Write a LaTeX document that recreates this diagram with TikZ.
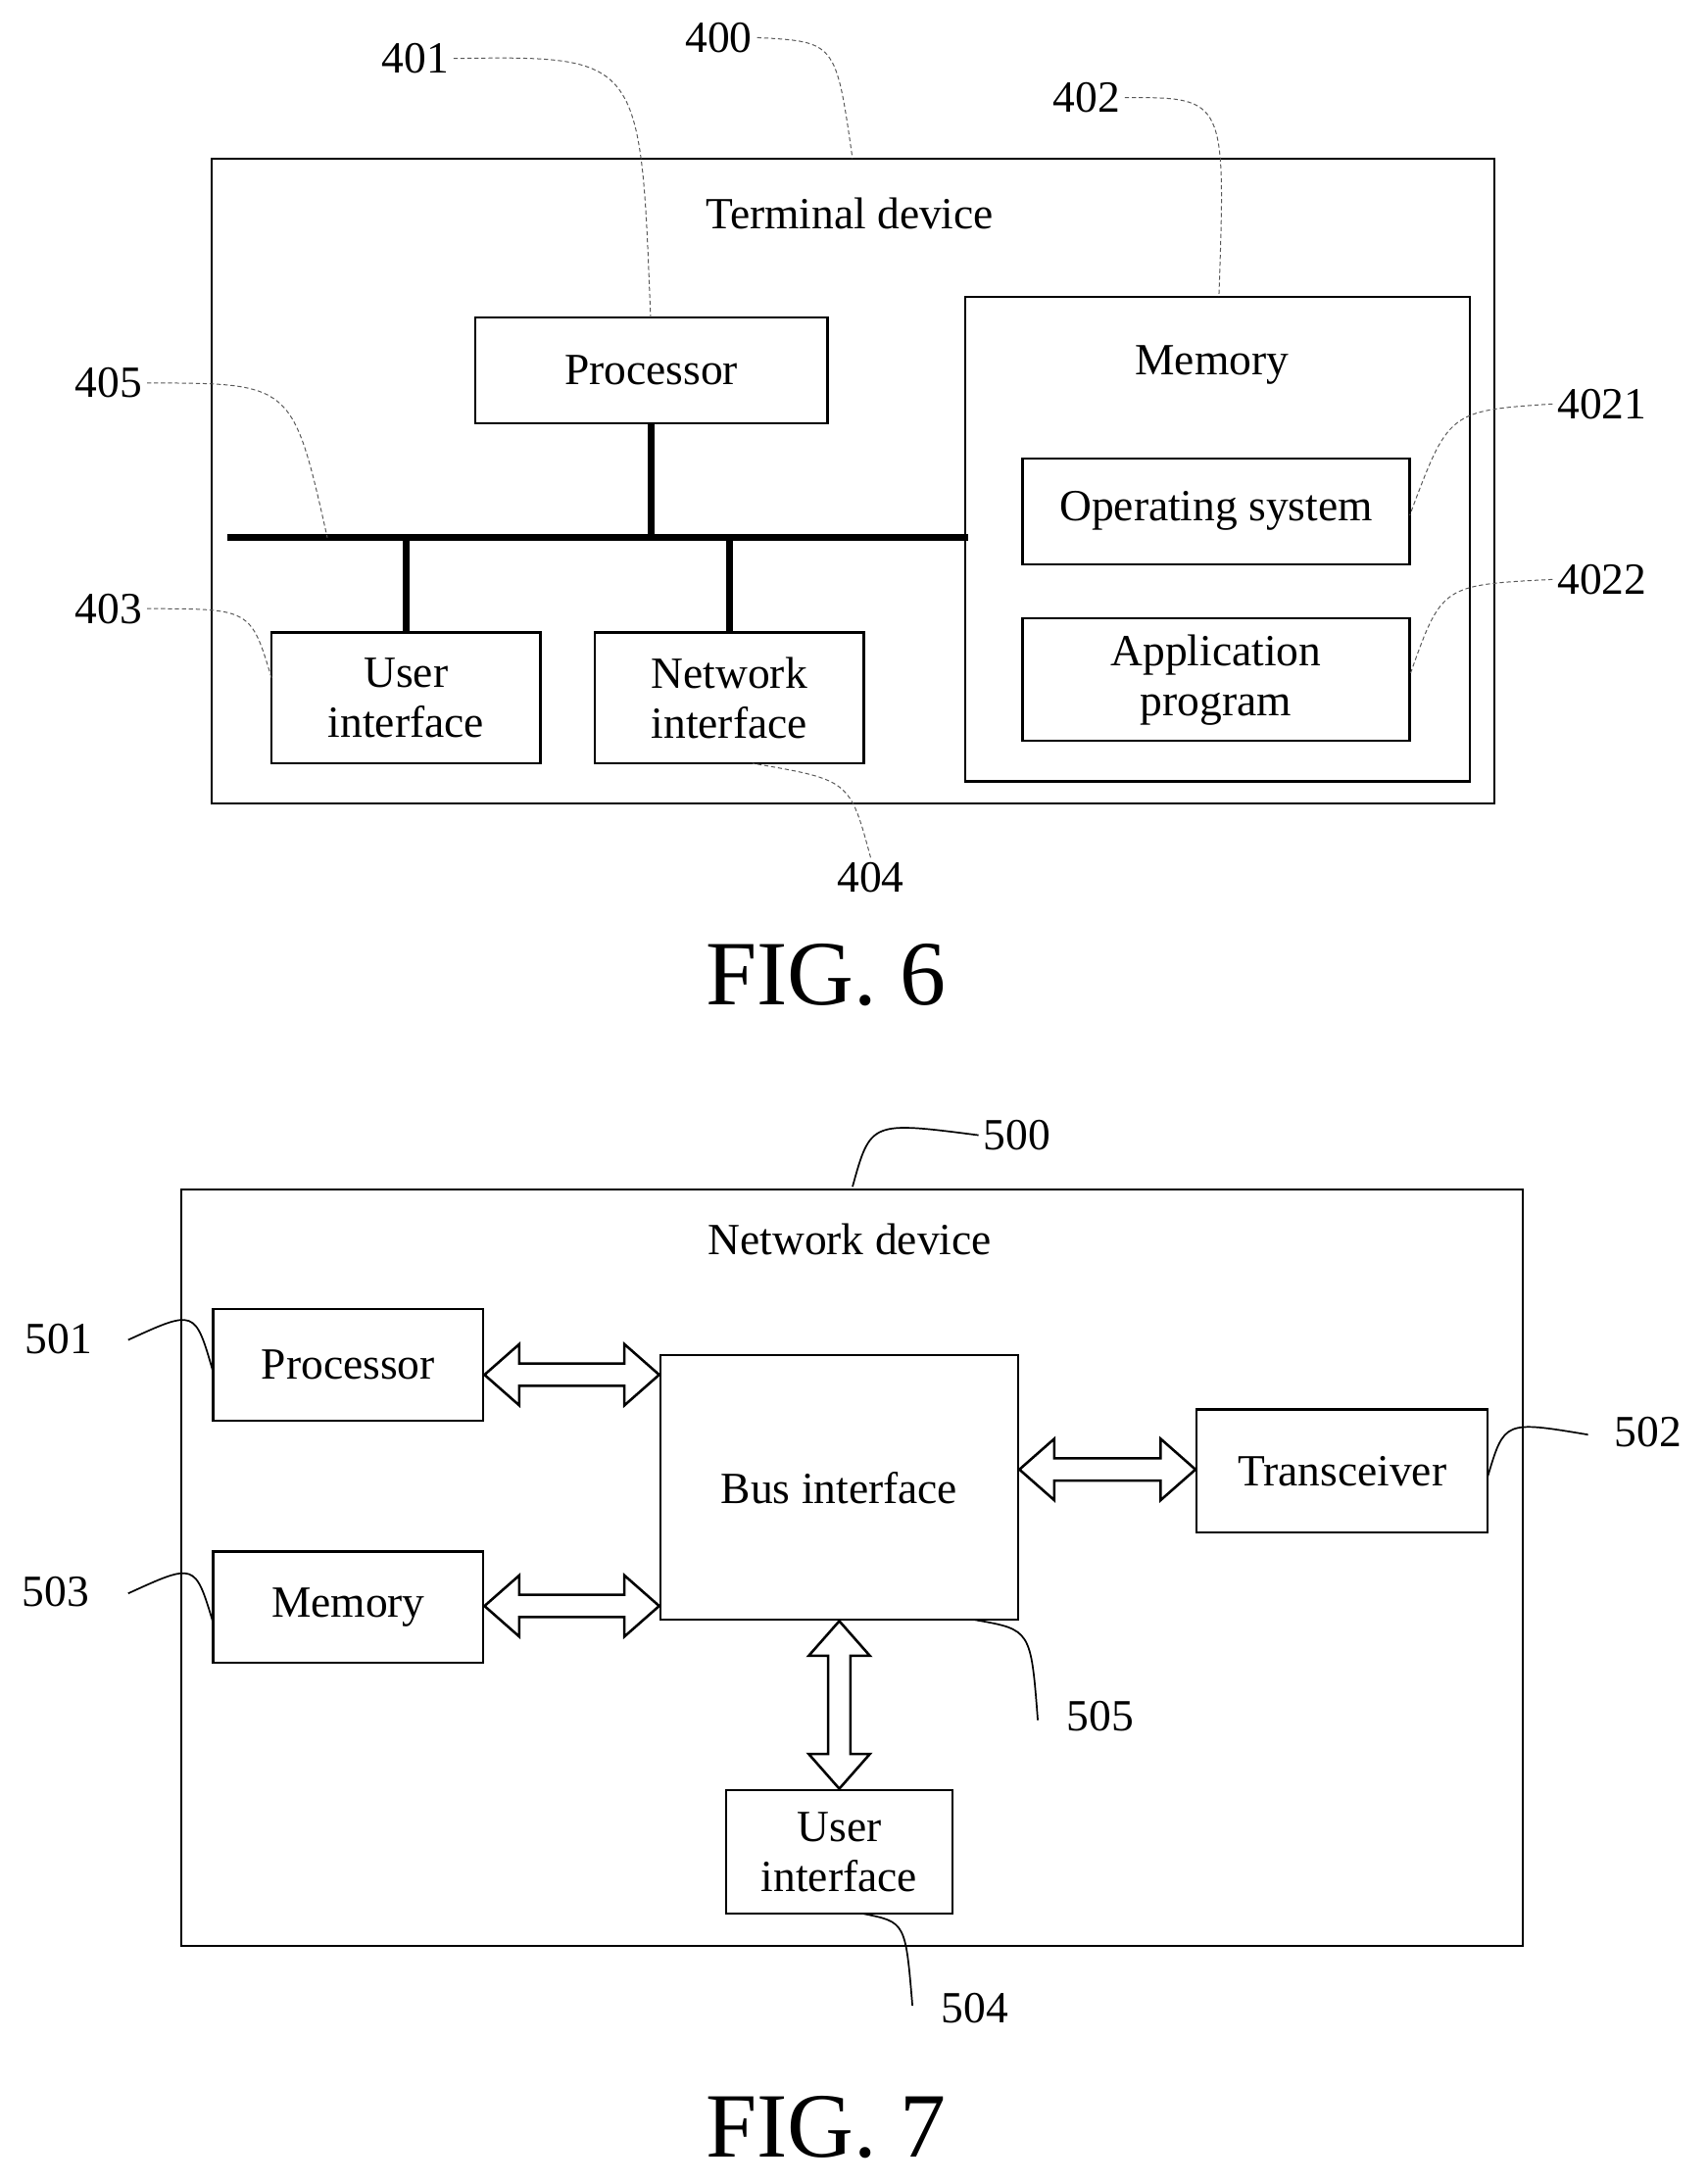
\documentclass[tikz,border=0pt]{standalone}
\usepackage{fontspec}
\setmainfont{Liberation Serif}
\usetikzlibrary{calc}
\begin{document}
\begin{tikzpicture}[x=1pt,y=-1pt,
 txt/.style={font=\fontsize{32}{36}\selectfont, align=center},
 box/.style={draw, line width=1.6pt},
 lead/.style={densely dashed, line width=0.7pt, gray!70!black},
 slead/.style={line width=1.2pt},
 bus/.style={line width=5pt},
 fig/.style={font=\fontsize{66}{68}\selectfont}]
\useasboundingbox (0,0) rectangle (1226,1568);
\newcommand\harr[2]{\draw[line width=1.8pt,fill=white] ($(#1)+(25,8)$) -- ($(#2)+(-25,8)$) -- ($(#2)+(-25,22)$) -- (#2) -- ($(#2)+(-25,-22)$) -- ($(#2)+(-25,-8)$) -- ($(#1)+(25,-8)$) -- ($(#1)+(25,-22)$) -- (#1) -- ($(#1)+(25,22)$) -- cycle;}
\newcommand\varr[2]{\draw[line width=1.8pt,fill=white] ($(#1)+(8,25)$) -- ($(#2)+(8,-25)$) -- ($(#2)+(22,-25)$) -- (#2) -- ($(#2)+(-22,-25)$) -- ($(#2)+(-8,-25)$) -- ($(#1)+(-8,25)$) -- ($(#1)+(-22,25)$) -- (#1) -- ($(#1)+(22,25)$) -- cycle;}
% FIG 6
\draw[box] (152,114) rectangle (1073,577);
\node[txt] (td) at (610,153) {Terminal device};
\node[box,txt,minimum width=253,minimum height=76] (proc) at (467.5,266) {Processor};
\draw[box] (693,213) rectangle (1055,561);
\node[txt] (mem) at (870,262) {Memory};
\node[box,txt,minimum width=278,minimum height=76] (os) at (873,367) {Operating system};
\node[box,txt,minimum width=278,minimum height=88,inner sep=0pt] (app) at (873,488) {Application\\program};
\node[box,txt,minimum width=193,minimum height=94,inner sep=0pt] (ui) at (291.5,501) {User\\interface};
\node[box,txt,minimum width=193,minimum height=94,inner sep=0pt] (ni) at (523.5,501) {Network\\interface};
\coordinate (bl) at (163,386); \coordinate (br) at (695,386);
\draw[bus] (bl) -- (br);
\draw[bus] (proc.south) -- (proc.south |- bl);
\draw[bus] (ui.north) -- (ui.north |- bl);
\draw[bus] (ni.north) -- (ni.north |- bl);
\node[txt] (l400) at (516,27) {400};
\node[txt] (l401) at (298,42) {401};
\node[txt] (l402) at (780,70) {402};
\node[txt] (l405) at (78,275) {405};
\node[txt] (l403) at (78,437) {403};
\node[txt] (l4021) at (1150,290) {4021};
\node[txt] (l4022) at (1150,416) {4022};
\node[txt] (l404) at (625,630) {404};
\draw[lead] (l400.east) .. controls (600,30) .. (612,114);
\draw[lead] (l401.east) .. controls (460,40) .. (467,228);
\draw[lead] (l402.east) .. controls (880,70) .. (875,213);
\draw[lead] (l405.east) .. controls (210,275) .. (235,386);
\draw[lead] (l403.east) .. controls (180,437) .. (195,487);
\draw[lead] (l4021.west) .. controls (1040,295) .. (1012,370);
\draw[lead] (l4022.west) .. controls (1035,420) .. (1012,485);
\draw[lead] (l404.north) .. controls (610,560) .. (540,548);
\node[fig] (f6) at (593,700) {FIG. 6};
% FIG 7
\draw[box] (130,854) rectangle (1093,1397);
\node[txt] (nd) at (610,890) {Network device};
\node[box,txt,minimum width=194,minimum height=80] (p7) at (250,980) {Processor};
\node[box,txt,minimum width=194,minimum height=80] (m7) at (250,1154) {Memory};
\node[box,txt,minimum width=257,minimum height=190] (bi) at (602.5,1068) {Bus interface};
\node[box,txt,minimum width=209,minimum height=88] (tr) at (963.5,1056) {Transceiver};
\node[box,txt,minimum width=163,minimum height=89,inner sep=0pt] (u7) at (602.5,1329.5) {User\\interface};
\harr{p7.east |- 0,987}{bi.west |- 0,987}
\harr{m7.east |- 0,1153}{bi.west |- 0,1153}
\harr{bi.east |- 0,1055}{tr.west |- 0,1055}
\varr{bi.south}{u7.north}
\node[txt] (l500) at (730,815) {500};
\node[txt] (l501) at (42,961) {501};
\node[txt] (l503) at (40,1143) {503};
\node[txt] (l502) at (1183,1028) {502};
\node[txt] (l505) at (790,1232) {505};
\node[txt] (l504) at (700,1442) {504};
\draw[slead] (612,852) .. controls (625,805) .. (l500.west);
\draw[slead] (92,962) .. controls (140,940) .. (153,985);
\draw[slead] (92,1144) .. controls (140,1122) .. (153,1165);
\draw[slead] (1140,1030) .. controls (1080,1020) .. (1068,1060);
\draw[slead] (745,1235) .. controls (740,1170) .. (700,1163);
\draw[slead] (655,1440) .. controls (650,1380) .. (620,1374);
\node[fig] (f7) at (593,1527) {FIG. 7};
\end{tikzpicture}
\end{document}
